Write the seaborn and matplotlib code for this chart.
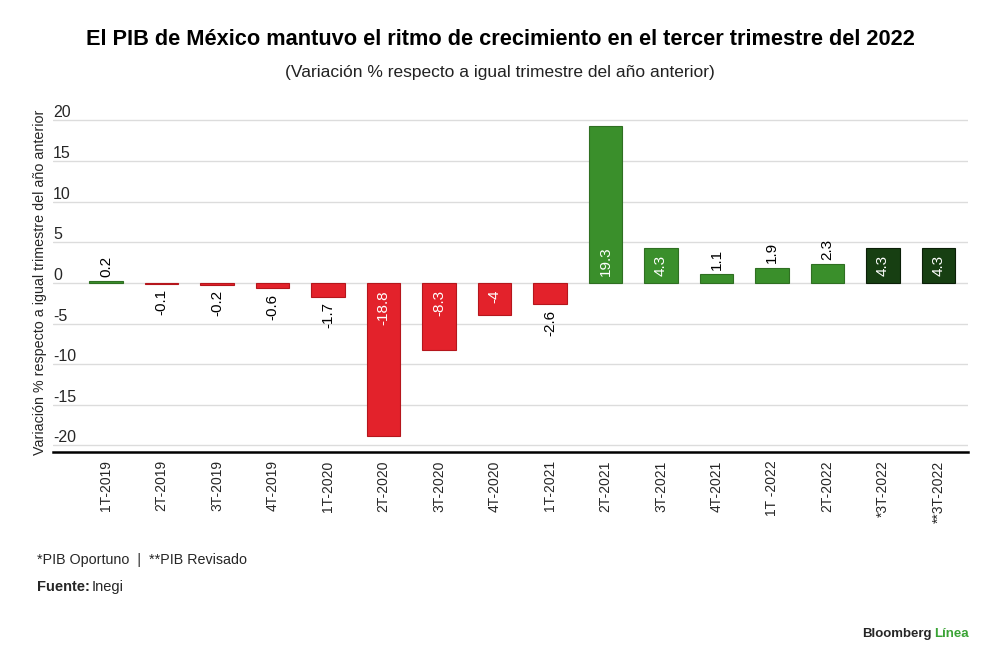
import matplotlib
matplotlib.use("Agg")
import matplotlib.pyplot as plt
import seaborn as sns

quarters = ["1T-2019", "2T-2019", "3T-2019", "4T-2019", "1T-2020", "2T-2020",
            "3T-2020", "4T-2020", "1T-2021", "2T-2021", "3T-2021", "4T-2021",
            "1T -2022", "2T-2022", "*3T-2022", "**3T-2022"]
values = [0.2, -0.1, -0.2, -0.6, -1.7, -18.8, -8.3, -4, -2.6, 19.3, 4.3, 1.1,
          1.9, 2.3, 4.3, 4.3]
value_text = ["0.2", "-0.1", "-0.2", "-0.6", "-1.7", "-18.8", "-8.3", "-4", "-2.6",
              "19.3", "4.3", "1.1", "1.9", "2.3", "4.3", "4.3"]
y_ticks = [-20, -15, -10, -5, 0, 5, 10, 15, 20]

red = "#e3222b"
green = "#3a8f2b"
dark_green = "#173f12"
colors = [green if v > 0 else red for v in values]
colors[-2] = dark_green
colors[-1] = dark_green
edges = ["#2f6f22" if c == green else ("#b5161c" if c == red else "#0b1f08") for c in colors]

sns.set_style("white")
plt.rcParams["font.family"] = ["Liberation Sans", "DejaVu Sans"]

fig = plt.figure(figsize=(10, 6.64), dpi=100)
ax = fig.add_axes([0.053, 0.3193, 0.915, 0.5115])

ax.set_axisbelow(True)
for t in y_ticks:
    ax.axhline(t, color="#dcdcdc", lw=1, zorder=0)

sns.barplot(x=quarters, y=values, hue=quarters, palette=colors, legend=False,
            width=0.6, saturation=1, ax=ax, zorder=2)
for patch, ec in zip(ax.patches, edges):
    patch.set_edgecolor(ec)
    patch.set_linewidth(0.8)

# etiquetas de valor
for i, (v, s) in enumerate(zip(values, value_text)):
    inside = abs(v) >= 4
    if inside:
        y, col = 0, "white"
    else:
        y, col = v, "black"
    if v >= 0:
        off, va = (3 if not inside else 5), "bottom"
    else:
        off, va = (-4 if not inside else -5), "top"
    ax.annotate(s, xy=(i, y), xytext=(0, off), textcoords="offset points",
                rotation=90, ha="center", va=va, fontsize=11, color=col, zorder=3)

ax.set_xlim(-0.955, 15.53)
ax.set_ylim(-20.8, 21)
ax.set_yticks(y_ticks)
ax.set_yticklabels([str(t) for t in y_ticks])
ax.tick_params(axis="y", length=0, pad=0, labelsize=11.5)
for lab in ax.get_yticklabels():
    lab.set_horizontalalignment("left")
    lab.set_verticalalignment("bottom")
ax.tick_params(axis="x", length=0, pad=6, labelsize=10, rotation=90)

for side in ["top", "right", "left"]:
    ax.spines[side].set_visible(False)
ax.spines["bottom"].set_color("black")
ax.spines["bottom"].set_linewidth(1.8)
ax.spines["bottom"].set_position(("data", -20.8))

ax.set_xlabel("")
ax.set_ylabel("Variación % respecto a igual trimestre del año anterior", fontsize=10.3)
ax.yaxis.set_label_coords(-0.007, 0.5)

fig.text(0.5, 0.94, "El PIB de México mantuvo el ritmo de crecimiento en el tercer trimestre del 2022",
         ha="center", va="center", fontsize=15.7, fontweight="bold", color="black")
fig.text(0.5, 0.891, "(Variación % respecto a igual trimestre del año anterior)",
         ha="center", va="center", fontsize=12.5, color="#222222")

fig.text(0.037, 0.157, "*PIB Oportuno  |  **PIB Revisado", ha="left", va="center", fontsize=10.3)
fig.text(0.037, 0.116, "Fuente:", ha="left", va="center", fontsize=10.5, fontweight="bold")
fig.text(0.092, 0.116, "Inegi", ha="left", va="center", fontsize=10.5)

fig.text(0.932, 0.045, "Bloomberg", ha="right", va="center", fontsize=9.5, fontweight="bold")
fig.text(0.934, 0.045, "Línea", ha="left", va="center", fontsize=9.5, fontweight="bold",
         color="#3aa335")

fig.savefig("out.png", dpi=100)
